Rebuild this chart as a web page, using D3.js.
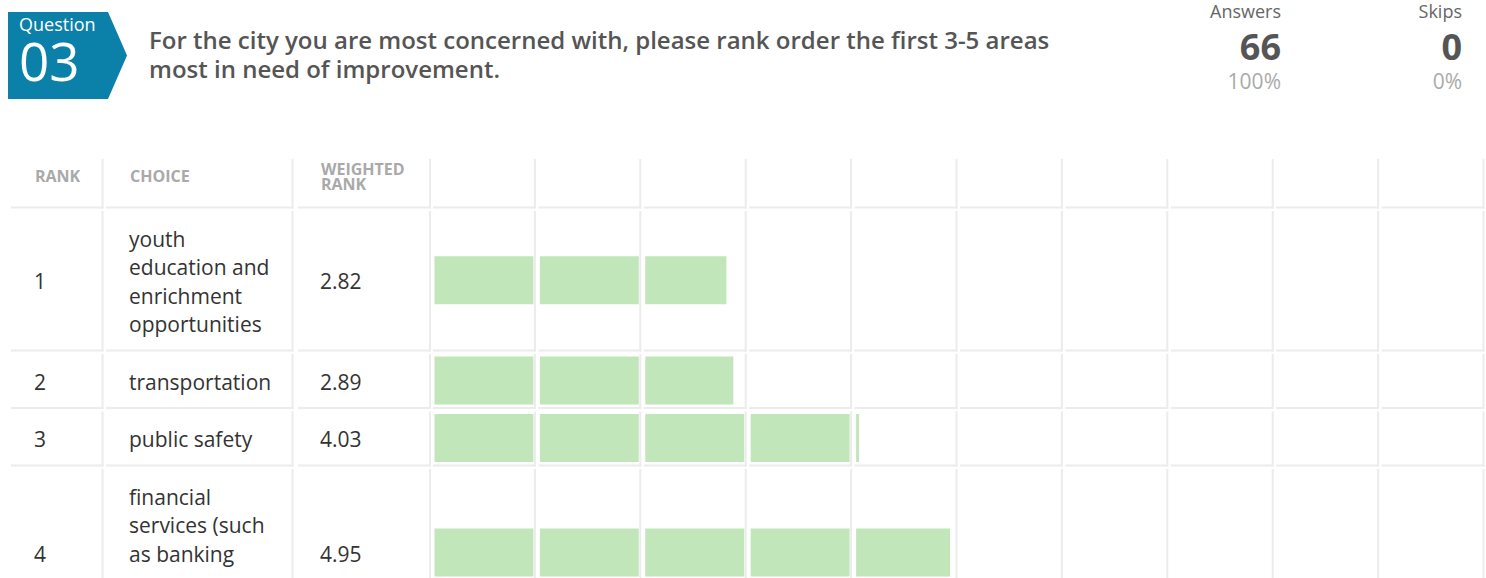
<!DOCTYPE html>
<html>
<head>
<meta charset="utf-8">
<script src="https://cdn.jsdelivr.net/npm/d3@7"></script>
<style>
  html, body { margin: 0; padding: 0; background: #fff; overflow: hidden; }
  svg { display: block; font-family: "Open Sans", sans-serif; }
</style>
</head>
<body>
<div id="chart"></div>
<script>
// question header
const questionNumber = "03";
const questionLines = [
  "For the city you are most concerned with, please rank order the first 3-5 areas",
  "most in need of improvement."
];
const statLabels = ["Answers", "Skips"];
const statCounts = [66, 0];
const statPercents = ["100%", "0%"];

// table
const headerLabels = [["RANK"], ["CHOICE"], ["WEIGHTED", "RANK"]];
const ranks = [1, 2, 3, 4];
const choiceLines = [
  ["youth", "education and", "enrichment", "opportunities"],
  ["transportation"],
  ["public safety"],
  ["financial", "services (such", "as banking", "access or", "credit)"]
];
const weightedRanks = [2.82, 2.89, 4.03, 4.95];
const gridColumns = 10;

const W = 1486, H = 700;
const svg = d3.select("#chart").append("svg")
  .attr("width", W)
  .attr("height", H);

// ---- badge
const badge = svg.append("g");
badge.append("polygon")
  .attr("points", "8,12 108,12 127,55.5 108,99 8,99")
  .attr("fill", "#0b80a9");
badge.append("text")
  .attr("x", 19).attr("y", 31)
  .attr("fill", "#fff")
  .style("font-size", "18px")
  .text("Question");
badge.append("text")
  .attr("x", 19).attr("y", 80.5)
  .attr("fill", "#fff")
  .style("font-size", "53px")
  .text(questionNumber);

// ---- title
svg.append("g").selectAll("text")
  .data(questionLines)
  .join("text")
  .attr("x", 149)
  .attr("y", (d, i) => 49 + i * 29)
  .attr("fill", "#555")
  .style("font-size", "24px")
  .style("font-weight", 600)
  .text(d => d);

// ---- stats (answers / skips)
const statX = [1281, 1462];
const stats = svg.append("g").selectAll("g")
  .data(statLabels)
  .join("g")
  .attr("transform", (d, i) => `translate(${statX[i]},0)`)
  .attr("text-anchor", "end");
stats.append("text")
  .attr("y", 18)
  .attr("fill", "#666")
  .style("font-size", "18px")
  .text(d => d);
stats.append("text")
  .attr("y", 60)
  .attr("fill", "#555")
  .style("font-size", "36px")
  .style("font-weight", 700)
  .text((d, i) => statCounts[i]);
stats.append("text")
  .attr("y", 88.5)
  .attr("fill", "#aaa")
  .style("font-size", "21px")
  .text((d, i) => statPercents[i]);

// ---- table layout
const x = d3.scaleLinear().domain([0, gridColumns]).range([429, 1483]);

const fixedCols = [
  { l: 11, r: 103.5, tx: 34 },
  { l: 106, r: 293.5, tx: 129 },
  { l: 298, r: 431, tx: 320 }
];
const barCols = d3.range(gridColumns).map(k => ({ l: x(k) + 4, r: x(k + 1) + 1.5 }));
const allCols = fixedCols.concat(barCols);

const linePitch = 28.5;
const rows = [];
let rowTop = 211;
choiceLines.forEach((lines, i) => {
  const h = 55 + (lines.length - 1) * linePitch;
  rows.push({ top: rowTop, bottom: rowTop + h, i });
  rowTop += h + 2.5;
});
const headerRow = { top: 159, bottom: 208.5 };

const gridColor = "#ececec";
const grid = svg.append("g");

function drawCellBorders(row) {
  grid.append("g").selectAll("rect")
    .data(allCols)
    .join("rect")
    .attr("x", c => c.r - 2)
    .attr("y", row.top)
    .attr("width", 2)
    .attr("height", row.bottom - row.top)
    .attr("fill", gridColor);
  grid.append("g").selectAll("rect")
    .data(allCols)
    .join("rect")
    .attr("x", c => c.l)
    .attr("y", row.bottom - 2)
    .attr("width", c => c.r - c.l)
    .attr("height", 2)
    .attr("fill", gridColor);
}
drawCellBorders(headerRow);
rows.forEach(drawCellBorders);

// ---- header labels
const head = svg.append("g");
headerLabels.forEach((lines, ci) => {
  head.append("text")
    .attr("fill", "#a9a9a9")
    .style("font-size", "16px")
    .style("font-weight", 700)
    .selectAll("tspan")
    .data(lines)
    .join("tspan")
    .attr("x", fixedCols[ci].tx + 1)
    .attr("y", (d, j) => lines.length === 1 ? 182 : 175 + j * 15)
    .text(d => d);
});

// ---- body rows
const body = svg.append("g").selectAll("g")
  .data(rows)
  .join("g");

body.each(function(row) {
  const g = d3.select(this);
  const i = row.i;
  const cy = (row.top + row.bottom - 2) / 2;
  const lines = choiceLines[i];

  g.append("text")
    .attr("x", fixedCols[0].tx)
    .attr("y", cy + 9)
    .attr("fill", "#333")
    .style("font-size", "21px")
    .text(ranks[i]);

  g.append("text")
    .attr("fill", "#333")
    .style("font-size", "21px")
    .selectAll("tspan")
    .data(lines)
    .join("tspan")
    .attr("x", fixedCols[1].tx)
    .attr("y", (d, j) => cy + 9 + (j - (lines.length - 1) / 2) * linePitch)
    .text(d => d);

  g.append("text")
    .attr("x", fixedCols[2].tx)
    .attr("y", cy + 9)
    .attr("fill", "#333")
    .style("font-size", "21px")
    .text(weightedRanks[i].toFixed(2));

  // one bar piece per grid column, filled by the part of the value in that column
  const pieces = d3.range(gridColumns)
    .map(k => ({ k, frac: Math.max(0, Math.min(1, weightedRanks[i] - k)) }))
    .filter(p => p.frac > 0);

  g.selectAll("rect")
    .data(pieces)
    .join("rect")
    .attr("x", p => x(p.k) + 5.5)
    .attr("y", cy - 24)
    .attr("width", p => {
      const inner = d3.scaleLinear().domain([0, 1]).range([x(p.k) + 5.5, x(p.k + 1) - 1]);
      return inner(p.frac) - inner(0);
    })
    .attr("height", 48)
    .attr("fill", "#c1e6ba");
});
</script>
</body>
</html>
